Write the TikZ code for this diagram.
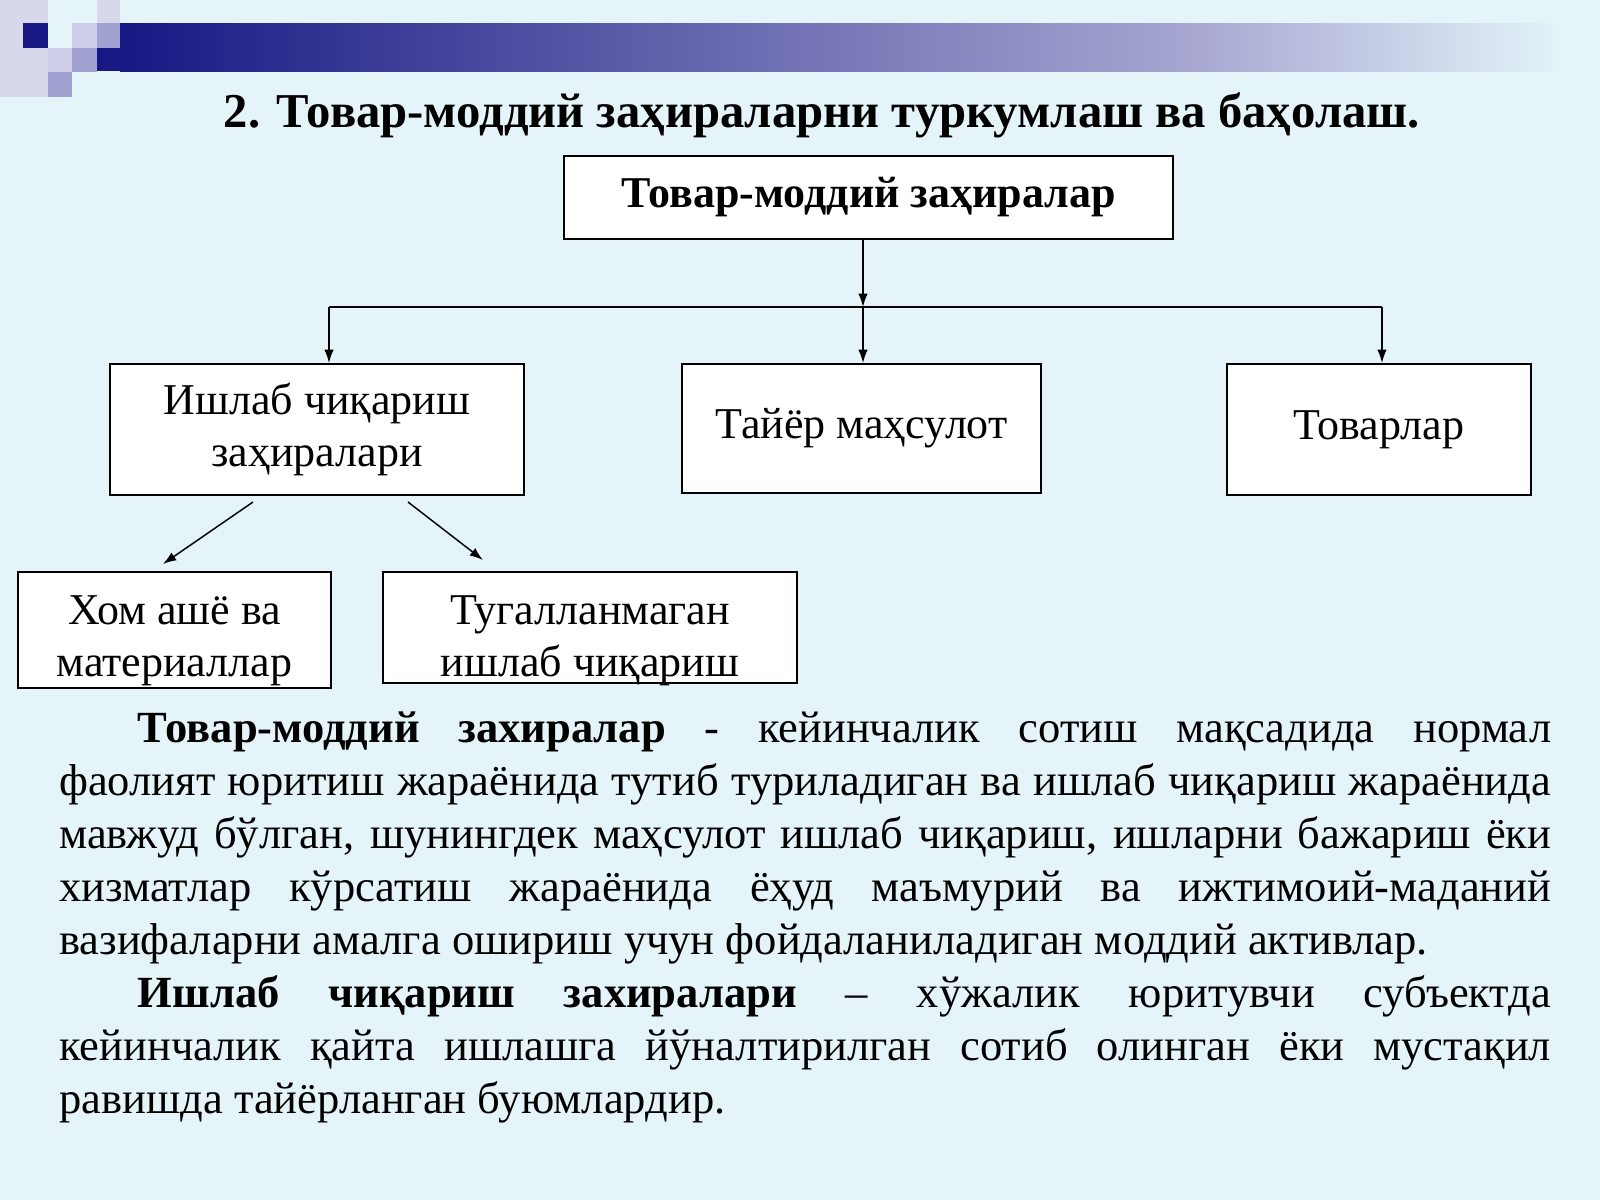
\documentclass[tikz,border=0pt]{standalone}
\usepackage{fontspec}
\setmainfont{Liberation Serif}
\usetikzlibrary{arrows.meta}
\hyphenpenalty=10000
\exhyphenpenalty=10000
\definecolor{slidebg}{RGB}{228,244,249}
\definecolor{navy}{RGB}{24,24,132}
\definecolor{barmid}{RGB}{168,168,210}
\definecolor{lavL}{RGB}{216,216,236}
\definecolor{lavS}{RGB}{205,205,232}
\definecolor{lavM}{RGB}{162,162,210}
\tikzstyle{conn} = [line width=1.1pt,-{Latex[length=10pt,width=7pt]}]
\tikzstyle{box} = [draw,fill=white,line width=1.4pt,inner sep=0pt,align=center,font=\fontsize{33}{39}\selectfont]
\tikzstyle{boxtext} = [inner sep=0pt,align=center,font=\fontsize{33}{39}\selectfont]

\begin{document}
\begin{tikzpicture}[x=0.75pt,y=0.75pt,yscale=-1,xscale=1]
\useasboundingbox (0,0) rectangle (1600,1200);
%Background
\fill[slidebg] (0,0) rectangle (1600,1200);

%Shape: Squares
\fill[lavL] (0,0) rectangle (48,97);
\fill[navy] (23,23) rectangle (48,48);
\fill[lavS] (48,48) rectangle (72,72);
\fill[lavM] (48,72) rectangle (72,97);
\fill[lavS] (72,23) rectangle (97,48);
\fill[lavM] (72,48) rectangle (97,72);
\fill[lavL] (97,0) rectangle (120,23);
\fill[lavM] (97,23) rectangle (120,48);
%Shape: Bar
\fill[navy] (97,48) rectangle (121,71);
\shade[left color=navy,right color=barmid] (120,23) rectangle (1200,71);
\shade[left color=barmid,right color=slidebg] (1199,23) rectangle (1565,71);

% Text Node
\node (sarlavha) [anchor=base,font=\bfseries\fontsize{36.5}{42}\selectfont] at (822,127) {2. Товар-моддий заҳираларни туркумлаш ва баҳолаш.};

%Shape: Rectangle
\node (zaxira) [box,font=\bfseries\fontsize{33}{39}\selectfont,minimum width=456.75pt,minimum height=62.25pt] at (868.5,197.5) {Товар-моддий заҳиралар};
%Shape: Rectangle
\node (ishlab) [box,minimum width=310.5pt,minimum height=98.25pt] at (317,429.5) {Ишлаб чиқариш\\заҳиралари};
%Shape: Rectangle
\node (tayyor) [box,minimum width=269.25pt,minimum height=96.75pt] at (861.5,428.5) {Тайёр маҳсулот};
%Shape: Rectangle
\node (tovar) [box,minimum width=228pt,minimum height=98.25pt] at (1379,429.5) {Товарлар};
%Shape: Rectangle
\node (xom) [box,minimum width=234.75pt,minimum height=87pt] at (174.5,630) {};
\node (xomT) [boxtext] at (174.5,641) {Хом ашё ва\\материаллар};
%Shape: Rectangle
\node (tugal) [box,minimum width=310.5pt,minimum height=83.25pt] at (590,627.5) {};
\node (tugalT) [boxtext] at (590,641) {Тугалланмаган\\ишлаб чиқариш};

%Straight Lines
\coordinate (tarmoq) at (863,307);
\coordinate (tarmoqL) at (329,307);
\coordinate (tarmoqR) at (1382,307);
\draw[conn] (zaxira.south -| tarmoq) -- (tarmoq);
\draw[line width=1.1pt] (tarmoqL) -- (tarmoqR);
\draw[conn] (tarmoqL) -- (tarmoqL |- ishlab.north);
\draw[conn] (tarmoq) -- (tarmoq |- tayyor.north);
\draw[conn] (tarmoqR) -- (tarmoqR |- tovar.north);
%Straight Lines
\coordinate (chapA) at (253,502);
\coordinate (chapB) at (163,564);
\coordinate (ongA) at (408,502);
\coordinate (ongB) at (483,560);
\draw[conn] (chapA) -- (chapB);
\draw[conn] (ongA) -- (ongB);

% Text Node
\node (matn) [anchor=base west,text width=1119pt,align=justify,inner sep=0pt,font=\fontsize{33.4}{39.75}\selectfont] at (59,742) {%
\leavevmode\hbox to 59pt{}\textbf{Товар-моддий захиралар} - кейинчалик сотиш мақсадида нормал\linebreak
фаолият юритиш жараёнида тутиб туриладиган ва ишлаб чиқариш жараёнида\linebreak
мавжуд бўлган, шунингдек маҳсулот ишлаб чиқариш, ишларни бажариш ёки\linebreak
хизматлар кўрсатиш жараёнида ёҳуд маъмурий ва ижтимоий-маданий\linebreak
вазифаларни амалга ошириш учун фойдаланиладиган моддий активлар.\par
\leavevmode\hbox to 59pt{}\textbf{Ишлаб чиқариш захиралари} – хўжалик юритувчи субъектда\linebreak
кейинчалик қайта ишлашга йўналтирилган сотиб олинган ёки мустақил\linebreak
равишда тайёрланган буюмлардир.};

\end{tikzpicture}
\end{document}
